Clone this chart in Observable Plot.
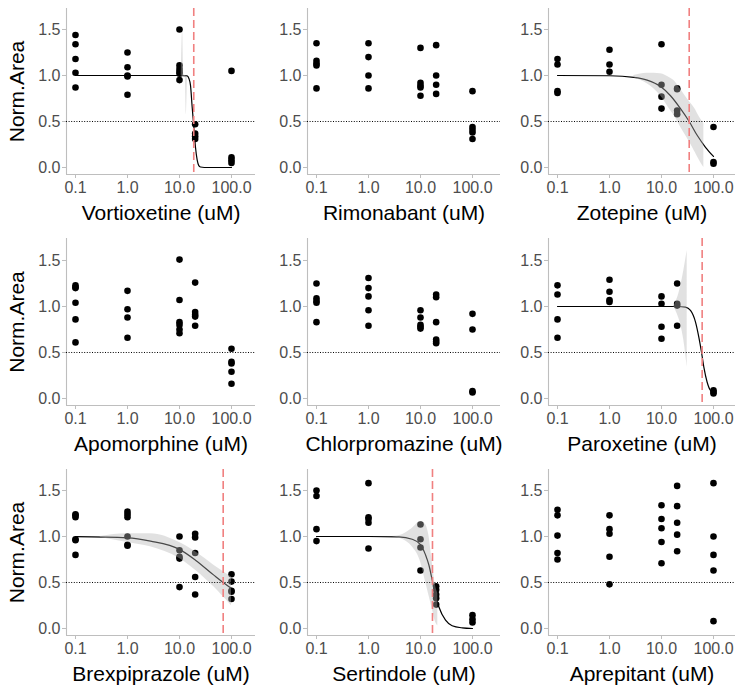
<!DOCTYPE html>
<html><head><meta charset="utf-8">
<script src="https://cdn.jsdelivr.net/npm/d3@7"></script>
<script src="https://cdn.jsdelivr.net/npm/@observablehq/plot@0.6"></script>
<style>
html,body{margin:0;padding:0;background:#fff;}
#chart{position:relative;width:737px;height:689px;font-family:"Liberation Sans",Arial,sans-serif;}
#chart .cell{position:absolute;}
</style></head><body><div id="chart"></div>
<script>
// ---------- data ----------
const drugs = ["Vortioxetine","Rimonabant","Zotepine","Apomorphine","Chlorpromazine","Paroxetine","Brexpiprazole","Sertindole","Aprepitant"];
const doses = [0.1, 1, 10, 20, 100];
const xTicks = [0.1, 1, 10, 100];
const yTicks = [0, 0.5, 1, 1.5];
const threshold = 0.5;

// Norm.Area values per dose (same order as doses)
const vortioxetineArea = [[1.44,1.34,1.18,1.03,0.87],[1.25,1.09,1.00,0.99,0.79],[1.50,1.11,1.07,1.04,1.02,0.95],[0.47,0.37,0.34,0.31],[1.05,0.11,0.08,0.05]];
const rimonabantArea = [[1.35,1.16,1.13,1.11,0.86],[1.35,1.20,1.00,0.86],[1.30,0.92,0.89,0.87,0.78],[1.33,1.00,0.90,0.80],[0.83,0.44,0.41,0.38,0.31]];
const zotepineArea = [[1.18,1.12,0.83,0.81],[1.28,1.12,1.04],[1.34,0.90,0.77,0.64],[0.86,0.85,0.62,0.58],[0.44,0.06,0.04]];
const apomorphineArea = [[1.23,1.21,1.20,1.04,0.86,0.61],[1.17,0.97,0.88,0.66],[1.51,1.07,0.83,0.80,0.75,0.71],[1.26,0.94,0.91,0.89,0.79],[0.54,0.40,0.38,0.29,0.16]];
const chlorpromazineArea = [[1.25,1.09,1.06,1.04,0.83],[1.31,1.20,1.11,0.96,0.79],[0.96,0.88,0.80,0.78,0.76],[1.13,1.10,0.83,0.64,0.62,0.60],[0.92,0.75,0.08,0.065]];
const paroxetineArea = [[1.23,1.13,0.86,0.66],[1.29,1.16,1.07,1.05],[1.11,1.03,0.78,0.65],[1.25,1.03,1.01,0.79],[0.09,0.07,0.055]];
const brexpiprazoleArea = [[1.24,1.23,1.21,0.97,0.96,0.80],[1.27,1.24,1.21,1.00,0.91,0.90],[1.00,0.85,0.78,0.76,0.45],[1.03,0.99,0.82,0.56,0.37],[0.59,0.51,0.41,0.40,0.32]];
const sertindoleArea = [[1.50,1.44,1.08,0.95],[1.58,1.21,1.19,1.15,0.87],[1.13,0.97,0.88,0.63],[0.46,0.42,0.37,0.33,0.26],[0.145,0.10,0.065]];
const aprepitantArea = [[1.29,1.23,1.01,0.82,0.75],[1.23,1.08,1.03,0.78,0.48],[1.34,1.19,1.09,0.94,0.71],[1.55,1.33,1.15,1.02,0.84],[1.58,1.00,0.80,0.63,0.08]];

// fitted curves
const vortioxetineFitDose = [0.1,1,10,14.0,15.1,16.3,17.5,18.9,20.3,21.9,23.5,25.3,30,100];
const vortioxetineFitArea = [1,1,1,0.995,0.97,0.89,0.66,0.44,0.22,0.08,0.02,0.005,0,0];
const zotepineFitDose = [0.1,1,2.94,5.3,9.6,14.9,23.2,34.1,48.5,70.2,100];
const zotepineFitArea = [1.0,0.997,0.98,0.95,0.88,0.78,0.64,0.5,0.35,0.22,0.12];
const paroxetineFitDose = [0.1,10,20,28.9,36.1,45.1,52.2,58.8,65.2,75.5,87.6,100];
const paroxetineFitArea = [1,1,1,0.993,0.957,0.83,0.667,0.503,0.34,0.177,0.087,0.065];
const brexpiprazoleFitDose = [0.1,1,2.77,10,20.3,45.7,69.2,100];
const brexpiprazoleFitArea = [0.998,0.986,0.95,0.86,0.743,0.58,0.5,0.435];
const sertindoleFitDose = [0.1,1,3.83,6.92,10,12.5,14.5,16.8,19.4,22.5,30.3,40.6,63.3,100];
const sertindoleFitArea = [1,1,0.996,0.97,0.913,0.80,0.69,0.525,0.362,0.236,0.09,0.03,0.007,0];

// confidence bands
const vortioxetineBandDose = [10.8,11.5,12.1,12.9,13.5,14.2];
const vortioxetineBandLow = [1.0,0.99,0.99,0.98,0.57,0.97];
const vortioxetineBandHigh = [1.0,1.48,1.01,1.0,0.99,0.99];
const zotepineBandDose = [2.94,5.3,9.57,14.9,17.3,23.2,26.9,36.1,41.9,56.2,65.2];
const zotepineBandLow = [0.975,0.91,0.78,0.62,0.57,0.44,0.38,0.257,0.19,0.058,0.0];
const zotepineBandHigh = [1.0,1.025,1.02,0.97,0.946,0.85,0.80,0.70,0.656,0.53,0.475];
const paroxetineBandDose = [17.3,20.0,23.2,26.9,31.2];
const paroxetineBandLow = [1.0,0.92,0.81,0.63,0.34];
const paroxetineBandHigh = [1.0,1.083,1.21,1.39,1.61];
const brexpiprazoleBandDose = [0.3,1,2.77,10,20.3,45.7,100];
const brexpiprazoleBandLow = [0.99,0.935,0.888,0.761,0.634,0.453,0.246];
const brexpiprazoleBandHigh = [1.0,1.03,1.03,0.935,0.833,0.688,0.56];
const sertindoleBandDose = [2.85,4.45,6.92,10,12.5,14.5,16.8,19.4,21.5];
const sertindoleBandLow = [1.0,0.97,0.888,0.725,0.507,0.362,0.217,0.072,0.03];
const sertindoleBandHigh = [1.0,1.02,1.087,1.16,1.13,1.01,0.725,0.47,0.38];

const ic50 = [18.8, null, 34.1, null, null, 60.5, 69.2, 17.0, null];

// ---------- assemble ----------
const areas = [vortioxetineArea, rimonabantArea, zotepineArea, apomorphineArea, chlorpromazineArea, paroxetineArea, brexpiprazoleArea, sertindoleArea, aprepitantArea];
const fits = {
  0: [vortioxetineFitDose, vortioxetineFitArea, vortioxetineBandDose, vortioxetineBandLow, vortioxetineBandHigh],
  2: [zotepineFitDose, zotepineFitArea, zotepineBandDose, zotepineBandLow, zotepineBandHigh],
  5: [paroxetineFitDose, paroxetineFitArea, paroxetineBandDose, paroxetineBandLow, paroxetineBandHigh],
  6: [brexpiprazoleFitDose, brexpiprazoleFitArea, brexpiprazoleBandDose, brexpiprazoleBandLow, brexpiprazoleBandHigh],
  7: [sertindoleFitDose, sertindoleFitArea, sertindoleBandDose, sertindoleBandLow, sertindoleBandHigh]
};

// layout (pixels)
const colLeft = [0, 245, 490], frameLeft = [66, 307, 548], frameRight = [255, 500, 735];
const rowTop = [0, 230, 460], rowH = [230, 230, 229], frameTop = [8, 238, 469], frameBottom = [174, 405, 635];
const pxPerDecade = 52, pxPerUnit = 92, firstTickInset = 9, yLow = -0.0761;
const axisGray = "#bebebe", tickText = "#4d4d4d";
const chart = document.getElementById("chart");

drugs.forEach((drug, k) => {
  const c = k % 3, r = Math.floor(k / 3);
  const width = frameRight[c] - colLeft[c] + 2;
  const height = rowH[r];
  const mL = frameLeft[c] - colLeft[c];
  const mT = frameTop[r] - rowTop[r];
  const mB = rowTop[r] + height - frameBottom[r];
  const xLo = Math.pow(10, -1 - firstTickInset / pxPerDecade);
  const xHi = Math.pow(10, -1 + (frameRight[c] - frameLeft[c] - firstTickInset) / pxPerDecade);
  const yHi = yLow + (frameBottom[r] - frameTop[r]) / pxPerUnit;

  const points = doses.flatMap((d, i) => areas[k][i].map(v => ({dose: d, area: v})));
  const marks = [
    Plot.ruleX([xLo], {stroke: axisGray, strokeWidth: 1.1}),
    Plot.ruleY([yLow], {stroke: axisGray, strokeWidth: 1.1}),
    Plot.axisX({ticks: xTicks, tickFormat: d => d.toFixed(1), tickSize: 4, tickPadding: 3, fontSize: 16, color: tickText, stroke: axisGray, label: null}),
    Plot.axisY({ticks: yTicks, tickFormat: d => d.toFixed(1), tickSize: 4, tickPadding: 2, fontSize: 16, color: tickText, stroke: axisGray, label: null}),
    Plot.dot(points, {x: "dose", y: "area", r: 3.3, fill: "black", stroke: "none"})
  ];
  if (fits[k]) {
    const [fd, fa, bd, bl, bh] = fits[k];
    const fit = fd.map((d, i) => ({dose: d, area: fa[i]}));
    const band = bd.map((d, i) => ({dose: d, lo: bl[i], hi: bh[i]}));
    marks.push(Plot.line(fit, {x: "dose", y: "area", stroke: "black", strokeWidth: 1.2, curve: "monotone-x"}));
    marks.push(Plot.areaY(band, {x: "dose", y1: "lo", y2: "hi", fill: "#b3b3b3", fillOpacity: 0.4, curve: "monotone-x"}));
  }
  marks.push(Plot.ruleY([threshold], {stroke: "black", strokeWidth: 1, strokeDasharray: "1,1.6"}));
  if (ic50[k] != null) marks.push(Plot.ruleX([ic50[k]], {stroke: "#f08080", strokeWidth: 1.6, strokeDasharray: "8,4"}));
  marks.push(Plot.text([drug + " (uM)"], {text: d => d, frameAnchor: "bottom", dy: 39, fontSize: 21, fill: "black", textAnchor: "middle", lineAnchor: "middle"}));
  if (c === 0) marks.push(Plot.text(["Norm.Area"], {text: d => d, frameAnchor: "left", dx: -49, rotate: -90, fontSize: 21, fill: "black", textAnchor: "middle", lineAnchor: "middle"}));

  const svg = Plot.plot({
    width, height,
    marginLeft: mL, marginRight: 2, marginTop: mT, marginBottom: mB,
    style: {fontFamily: "'Liberation Sans', Arial, sans-serif", background: "transparent", overflow: "visible"},
    x: {type: "log", domain: [xLo, xHi]},
    y: {domain: [yLow, yHi]},
    marks
  });
  const cell = document.createElement("div");
  cell.className = "cell";
  cell.style.left = colLeft[c] + "px";
  cell.style.top = rowTop[r] + "px";
  cell.style.width = width + "px";
  cell.style.height = height + "px";
  cell.appendChild(svg);
  chart.appendChild(cell);
});
</script></body></html>
